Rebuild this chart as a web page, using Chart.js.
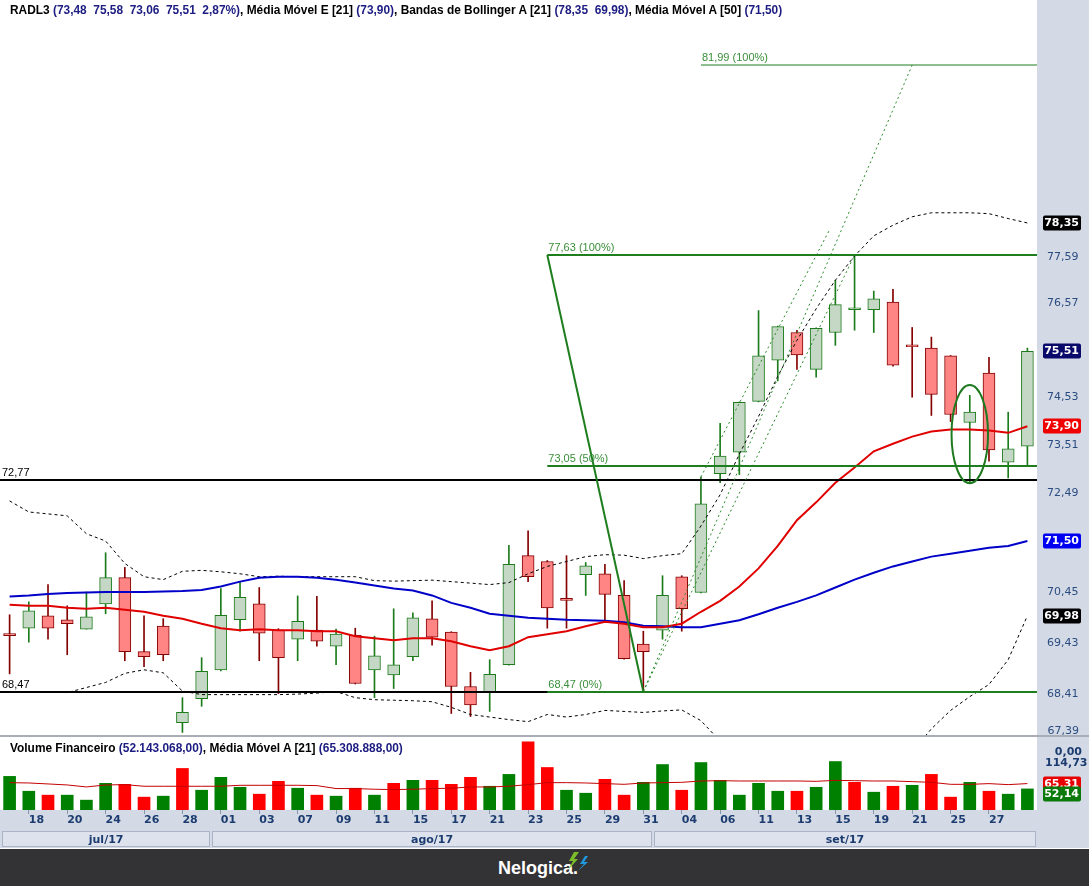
<!DOCTYPE html>
<html>
<head>
<meta charset="utf-8">
<title>RADL3</title>
<script src="https://cdn.jsdelivr.net/npm/chart.js@4.4.1/dist/chart.umd.min.js"></script>
<style>
  body { margin: 0; background: #fff; }
  #pagina { position: relative; width: 1089px; height: 886px; overflow: hidden; }
  canvas { position: absolute; left: 0; }
  #precos { top: 0; }
  #volume { top: 737px; }
  .sep { position: absolute; left: 0; top: 735px; width: 1089px; height: 2px; background: #a9aeb6; }
  .titulo { position: absolute; left: 10px; font: bold 11.9px "Liberation Sans", sans-serif; white-space: pre; color: #000; }
  .titulo span { color: #1c1c82; }
  #rodape { position: absolute; left: 0; top: 849px; width: 1089px; height: 37px; background: #333335; }
  #rodape .marca { position: absolute; left: 498px; top: 9px; color: #fff; font: bold 18px "Liberation Sans", sans-serif; }
  #rodape svg { position: absolute; left: 565px; top: 3px; }
</style>
</head>
<body>
<div id="pagina">
  <canvas id="precos" width="1089" height="735"></canvas>
  <div class="sep"></div>
  <canvas id="volume" width="1089" height="111"></canvas>
  <div class="titulo" style="top:3px">RADL3 <span>(73,48  75,58  73,06  75,51  2,87%)</span>, Média Móvel E [21] <span>(73,90)</span>, Bandas de Bollinger A [21] <span>(78,35  69,98)</span>, Média Móvel A [50] <span>(71,50)</span></div>
  <div class="titulo" style="top:741px">Volume Financeiro <span>(52.143.068,00)</span>, Média Móvel A [21] <span>(65.308.888,00)</span></div>
  <div id="rodape">
    <div class="marca">Nelogica.</div>
    <svg width="24" height="20" viewBox="0 0 24 20">
      <polygon points="9,0 4,9 8,9 3,18 13,7 9,7 14,0" fill="#7cbc2a"/>
      <polygon points="20,4 15,12 19,12 13,19 23,10 19,10 23,4" fill="#1e98de"/>
    </svg>
  </div>
</div>
<script>
// pregões de 17/07/2017 a 29/09/2017
const dates = ['17/07','18/07','19/07','20/07','21/07','24/07','25/07','26/07','27/07','28/07','31/07',
  '01/08','02/08','03/08','04/08','07/08','08/08','09/08','10/08','11/08','14/08','15/08','16/08','17/08','18/08',
  '21/08','22/08','23/08','24/08','25/08','28/08','29/08','30/08','31/08',
  '01/09','04/09','05/09','06/09','08/09','11/09','12/09','13/09','14/09','15/09','18/09','19/09','20/09','21/09','22/09',
  '25/09','26/09','27/09','28/09','29/09'];
const months = ['jul/17', 'ago/17', 'set/17'];
const monthNumbers = ['07', '08', '09'];

const opens = [69.62,69.73,69.98,69.90,69.71,70.22,70.75,69.26,69.77,67.86,
  68.33,68.90,69.90,70.22,69.69,69.51,69.69,69.37,69.59,68.90,
  68.80,69.16,69.92,69.65,68.57,68.45,69.00,71.20,71.08,70.33,
  70.81,70.83,70.39,69.41,69.69,70.77,70.45,72.90,73.35,74.43,
  75.32,75.92,75.12,75.92,76.42,76.42,76.59,75.65,75.58,75.41,
  73.98,75.04,73.14,73.48];
const highs = [70.00,70.26,70.61,70.18,70.46,71.26,70.96,69.98,69.92,68.35,
  69.14,70.53,70.67,70.55,69.72,70.38,70.37,69.71,69.73,69.57,
  70.12,70.04,70.28,69.66,68.85,69.10,71.41,71.71,71.10,71.20,
  71.06,71.02,70.69,69.67,70.79,70.79,72.83,73.96,74.42,76.40,
  76.06,75.97,76.02,77.07,77.63,76.83,76.87,76.03,75.82,75.42,
  74.56,75.38,74.20,75.58];
const lows = [68.82,69.45,69.51,69.20,69.71,70.02,69.08,68.96,69.08,67.67,
  68.18,68.88,69.67,69.08,68.43,69.08,69.37,69.00,68.62,68.35,
  68.53,69.08,69.39,68.04,67.98,68.08,68.99,70.67,69.73,69.73,
  70.39,69.88,69.11,68.47,69.51,69.67,70.44,72.71,72.88,74.42,
  74.87,75.12,74.95,75.64,75.97,75.92,75.19,74.52,74.13,74.00,
  72.71,73.16,72.81,73.06];
const closes = [69.58,70.08,69.73,69.82,69.96,70.75,69.26,69.16,69.20,68.06,
  68.87,69.99,70.35,69.63,69.14,69.87,69.47,69.61,68.63,69.18,
  69.00,69.94,69.55,68.57,68.21,68.81,71.02,70.77,70.14,70.29,
  70.99,70.41,69.12,69.26,70.39,70.12,72.27,73.27,74.41,75.41,
  76.05,75.43,76.01,76.53,76.46,76.66,75.21,75.61,74.58,74.15,
  74.20,73.40,73.42,75.51];

const ema21 = [70.20,70.18,70.18,70.14,70.12,70.14,70.10,70.06,69.98,69.92,
  69.82,69.73,69.69,69.71,69.69,69.69,69.67,69.67,69.57,69.53,
  69.49,69.53,69.53,69.47,69.37,69.29,69.37,69.55,69.61,69.67,
  69.77,69.86,69.82,69.75,69.75,69.82,70.06,70.28,70.57,70.94,
  71.40,71.93,72.30,72.71,73.03,73.37,73.53,73.68,73.79,73.83,
  73.83,73.81,73.76,73.90];
const sma50 = [70.37,70.39,70.42,70.44,70.45,70.46,70.46,70.46,70.47,70.48,
  70.50,70.57,70.67,70.75,70.77,70.77,70.75,70.71,70.65,70.59,
  70.53,70.49,70.39,70.24,70.14,70.02,69.98,69.94,69.92,69.90,
  69.89,69.88,69.85,69.78,69.77,69.75,69.75,69.82,69.89,70.01,
  70.14,70.26,70.39,70.55,70.71,70.85,70.98,71.08,71.18,71.24,
  71.30,71.36,71.40,71.50];
const bollUpper = [72.33,72.10,72.06,72.02,71.65,71.50,71.04,70.77,70.71,70.88,
  70.90,70.87,70.83,70.77,70.78,70.77,70.77,70.77,70.77,70.69,
  70.68,70.69,70.70,70.67,70.64,70.61,70.65,70.83,70.98,71.08,
  71.18,71.22,71.21,71.14,71.20,71.24,71.81,72.46,73.31,74.11,
  74.97,75.75,76.44,77.07,77.61,78.06,78.30,78.49,78.58,78.58,
  78.58,78.56,78.45,78.35];
const bollLower = [68.46,68.47,68.46,68.45,68.55,68.65,68.83,68.90,68.84,68.48,
  68.41,68.41,68.41,68.41,68.41,68.42,68.44,68.47,68.35,68.31,
  68.30,68.29,68.27,68.16,68.02,67.97,67.92,67.88,68.02,67.97,
  68.02,68.10,68.08,68.06,68.09,68.11,67.90,67.50,67.15,66.80,
  66.50,66.30,66.20,66.20,66.30,66.60,66.90,67.30,67.74,68.10,
  68.37,68.61,69.10,69.98];

// volume financeiro em milhões de R$
const volumes = [83.1,46.4,36.7,36.7,24.4,66.0,63.5,31.8,34.2,102.7,
  48.9,80.7,56.2,39.1,70.9,53.8,36.7,34.2,53.8,36.7,
  66.0,73.3,73.3,63.5,80.7,58.7,88.0,168.6,105.1,48.9,
  41.5,75.8,36.7,68.4,112.4,48.9,117.3,73.3,36.7,66.0,
  46.4,46.4,56.2,119.8,68.4,44.0,58.7,61.1,88.0,31.8,
  68.4,46.4,39.1,52.14];
const volMA21 = [67.6,66.8,64.4,61.9,57.0,61.9,62.7,58.7,58.7,58.7,
  58.7,58.7,61.1,61.1,61.1,61.1,60.3,53.0,53.0,51.3,
  50.5,51.3,53.0,53.8,57.0,57.0,58.7,62.7,67.6,67.6,
  66.8,65.2,63.5,66.8,67.6,68.4,71.7,72.5,71.7,71.7,
  71.7,71.7,70.9,73.3,72.5,71.7,71.7,70.1,68.4,63.5,
  63.5,65.2,62.7,65.31];

const priceTicks = [68.41, 69.43, 70.45, 72.49, 73.51, 74.53, 76.57, 77.59];
const bottomTick = 67.39;
const volTicks = [114.73];

// desenhos do gráfico (índice do pregão, preço)
const supportLines = [72.77, 68.47];
const fibFrom = [28, 77.63];
const fibTo = [33, 68.47];
const fibLevels = [[77.63, '77,63 (100%)'], [73.05, '73,05 (50%)'], [68.47, '68,47 (0%)']];
const projection = [36, 81.99, '81,99 (100%)'];
const trendLines = [[33, 68.47, 47, 81.99], [33, 68.47, 44, 77.63], [36, 72.83, 42.7, 78.2]];
const highlight = [50, 74.78, 72.70, 0.95];

const fmt = v => v.toFixed(2).replace('.', ',');
const n = dates.length - 1;

Chart.defaults.font.family = '"DejaVu Sans", sans-serif';
Chart.defaults.font.size = 11;

const up = closes.map((c, i) => c >= opens[i]);
const bodyFill = up.map(u => u ? '#c5d7c5' : '#ff8585');
const bodyLine = up.map(u => u ? '#1c7c1c' : '#850000');

function box(ctx, x, y, txt, color) {
  ctx.fillStyle = color;
  ctx.beginPath();
  ctx.roundRect(x, Math.round(y) - 7.5, 38, 15, 2);
  ctx.fill();
  ctx.fillStyle = '#fff';
  ctx.font = 'bold 11px "DejaVu Sans"';
  ctx.textAlign = 'right';
  ctx.textBaseline = 'middle';
  ctx.fillText(txt, x + 36, Math.round(y) + 0.5);
}

const drawings = {
  id: 'drawings',
  beforeDraw(chart) {
    const { ctx, chartArea: a } = chart;
    ctx.save();
    ctx.fillStyle = '#d3dae6';
    ctx.fillRect(a.right, 0, chart.width - a.right, chart.height);
    ctx.restore();
  },
  afterDatasetsDraw(chart) {
    const { ctx, chartArea: a, scales: { x, y } } = chart;
    const px = i => x.getPixelForValue(i);
    const py = v => y.getPixelForValue(v);
    const seg = (x0, y0, x1, y1) => { ctx.beginPath(); ctx.moveTo(x0, y0); ctx.lineTo(x1, y1); ctx.stroke(); };
    ctx.save();
    ctx.beginPath();
    ctx.rect(a.left, a.top, a.right - a.left, a.bottom - a.top);
    ctx.clip();

    // linhas de suporte / resistência
    ctx.strokeStyle = '#000';
    ctx.lineWidth = 2;
    ctx.font = '11px "Liberation Sans"';
    ctx.textBaseline = 'bottom';
    ctx.fillStyle = '#000';
    supportLines.forEach(v => {
      const yy = Math.round(py(v));
      seg(a.left, yy, a.right, yy);
      ctx.fillText(fmt(v), a.left + 2, yy - 2);
    });

    // linhas de tendência pontilhadas
    ctx.strokeStyle = '#2b8a2b';
    ctx.lineWidth = 1;
    ctx.setLineDash([2, 3]);
    trendLines.forEach(([i0, v0, i1, v1]) => seg(px(i0), py(v0), px(i1), py(v1)));
    ctx.setLineDash([]);

    // retração de Fibonacci
    ctx.strokeStyle = '#1e7e1e';
    ctx.lineWidth = 2;
    seg(px(fibFrom[0]), py(fibFrom[1]), px(fibTo[0]), py(fibTo[1]));
    ctx.fillStyle = '#3a8f3a';
    fibLevels.forEach(([v, txt]) => {
      const yy = Math.round(py(v));
      seg(px(fibFrom[0]), yy, a.right, yy);
      ctx.fillText(txt, px(fibFrom[0]) + 1, yy - 2);
    });
    ctx.lineWidth = 1.2;
    const yp = Math.round(py(projection[1]));
    seg(px(projection[0]), yp, a.right, yp);
    ctx.fillText(projection[2], px(projection[0]) + 1, yp - 2);

    // elipse de destaque
    const [hi, vTop, vBot, hw] = highlight;
    const yt = py(vTop), yb = py(vBot);
    ctx.lineWidth = 2;
    ctx.strokeStyle = '#1e7a1e';
    ctx.beginPath();
    ctx.ellipse(px(hi), (yt + yb) / 2, hw * (px(1) - px(0)), (yb - yt) / 2, 0, 0, Math.PI * 2);
    ctx.stroke();
    ctx.restore();
  },
  afterDraw(chart) {
    const { ctx, chartArea: a, scales: { y } } = chart;
    ctx.save();
    ctx.font = '11px "DejaVu Sans"';
    ctx.fillStyle = '#2b4c80';
    ctx.textAlign = 'right';
    ctx.textBaseline = 'middle';
    ctx.fillText(fmt(bottomTick), a.right + 42, a.bottom - 4);
    const x0 = a.right + 6;
    box(ctx, x0, y.getPixelForValue(bollUpper[n]), fmt(bollUpper[n]), '#000000');
    box(ctx, x0, y.getPixelForValue(closes[n]), fmt(closes[n]), '#0a0a6a');
    box(ctx, x0, y.getPixelForValue(ema21[n]), fmt(ema21[n]), '#f00000');
    box(ctx, x0, y.getPixelForValue(sma50[n]), fmt(sma50[n]), '#0000f0');
    box(ctx, x0, y.getPixelForValue(bollLower[n]), fmt(bollLower[n]), '#000000');
    ctx.restore();
  }
};

new Chart(document.getElementById('precos'), {
  type: 'bar',
  data: {
    labels: dates,
    datasets: [
      { type: 'line', label: 'Média Móvel E [21]', data: ema21, borderColor: '#e00000', borderWidth: 2, pointRadius: 0, order: 0 },
      { type: 'line', label: 'Média Móvel A [50]', data: sma50, borderColor: '#0000c8', borderWidth: 2, pointRadius: 0, order: 1 },
      { type: 'line', label: 'Bollinger sup', data: bollUpper, borderColor: '#000', borderWidth: 1, borderDash: [3, 3], pointRadius: 0, order: 2 },
      { type: 'line', label: 'Bollinger inf', data: bollLower, borderColor: '#000', borderWidth: 1, borderDash: [3, 3], pointRadius: 0, order: 2 },
      {
        label: 'corpo', data: opens.map((o, i) => [o, closes[i]]),
        backgroundColor: bodyFill, borderColor: bodyLine, borderWidth: 1, borderSkipped: false,
        barThickness: 12, grouped: false, order: 3
      },
      {
        label: 'pavio', data: lows.map((l, i) => [l, highs[i]]),
        backgroundColor: bodyLine, borderWidth: 0, barThickness: 1, grouped: false, order: 4
      }
    ]
  },
  options: {
    responsive: false,
    animation: false,
    events: [],
    layout: { padding: 0 },
    plugins: { legend: { display: false }, tooltip: { enabled: false } },
    scales: {
      x: { display: false, offset: true },
      y: {
        type: 'logarithmic', position: 'right', min: 67.62, max: 83.54, bounds: 'data',
        grid: { display: false, drawTicks: false, tickLength: 0 }, border: { display: false },
        afterBuildTicks: s => { s.ticks = priceTicks.map(v => ({ value: v })); },
        afterFit: s => { s.width = 52; s.paddingTop = 0; s.paddingBottom = 0; },
        ticks: { color: '#2b4c80', padding: 10, crossAlign: 'near', autoSkip: false, callback: v => fmt(v) }
      }
    }
  },
  plugins: [drawings]
});

const volColors = closes.map((c, i) => (i === 0 || c >= closes[i - 1]) ? '#008000' : '#ff0000');

const volumePanel = {
  id: 'volumePanel',
  beforeDraw(chart) {
    const { ctx, chartArea: a } = chart;
    ctx.save();
    ctx.fillStyle = '#d3dae6';
    ctx.fillRect(a.right, 0, chart.width - a.right, chart.height);
    ctx.fillRect(0, a.bottom, chart.width, chart.height - a.bottom);
    ctx.restore();
  },
  afterDraw(chart) {
    const { ctx, chartArea: a, scales: { x, y } } = chart;
    const px = i => x.getPixelForValue(i);
    ctx.save();
    // faixa dos meses
    const top = a.bottom + 21, h = chart.height - top - 1;
    months.forEach((m, k) => {
      const idx = dates.map((d, i) => i).filter(i => dates[i].slice(3) === monthNumbers[k]);
      const i0 = idx[0], i1 = idx[idx.length - 1];
      const left = i0 === 0 ? a.left + 2 : (px(i0) + px(i0 - 1)) / 2 + 1;
      const right = i1 === n ? a.right - 1 : (px(i1) + px(i1 + 1)) / 2 - 1;
      ctx.fillStyle = '#dde2ec';
      ctx.fillRect(left, top, right - left, h);
      ctx.strokeStyle = '#aab4c6';
      ctx.lineWidth = 1;
      ctx.strokeRect(Math.round(left) + 0.5, top + 0.5, Math.round(right - left) - 1, h - 1);
      ctx.fillStyle = '#1c3c70';
      ctx.font = 'bold 11px "DejaVu Sans"';
      ctx.textAlign = 'center';
      ctx.textBaseline = 'middle';
      ctx.fillText(m, (left + right) / 2, top + h / 2 + 1);
    });
    // rótulos do eixo do volume
    ctx.font = 'bold 11px "DejaVu Sans"';
    ctx.fillStyle = '#1c3c70';
    ctx.textAlign = 'right';
    ctx.textBaseline = 'middle';
    ctx.fillText('0,00', a.right + 45, a.top + 14);
    const x0 = a.right + 6;
    const yMA = y.getPixelForValue(volMA21[n]);
    const yVol = Math.max(y.getPixelForValue(volumes[n]), yMA + 10);
    box(ctx, x0, yMA, fmt(volMA21[n]), '#e80000');
    box(ctx, x0, yVol, fmt(volumes[n]), '#0b7a0b');
    ctx.restore();
  }
};

new Chart(document.getElementById('volume'), {
  type: 'bar',
  data: {
    labels: dates,
    datasets: [
      { type: 'line', label: 'Média Móvel A [21]', data: volMA21, borderColor: '#c40000', borderWidth: 1, pointRadius: 0, order: 0 },
      { label: 'Volume Financeiro', data: volumes, backgroundColor: volColors, barThickness: 12, order: 1 }
    ]
  },
  options: {
    responsive: false,
    animation: false,
    events: [],
    layout: { padding: { top: 1, bottom: 18 } },
    plugins: { legend: { display: false }, tooltip: { enabled: false } },
    scales: {
      x: {
        offset: true,
        grid: { display: true, offset: false, drawOnChartArea: false, drawTicks: true, tickLength: 4,
                color: c => (c.index % 2 && c.index < n) ? '#8797b0' : 'rgba(0,0,0,0)' },
        border: { display: false },
        ticks: {
          autoSkip: false, maxRotation: 0, minRotation: 0, align: 'start', padding: 0,
          color: '#1c3c70', font: { weight: 'bold', size: 11 },
          callback: (v, i) => (i % 2 && i < n) ? dates[i].slice(0, 2) : ''
        },
        afterFit: s => { s.height = 20; s.paddingLeft = 0; s.paddingRight = 0; }
      },
      y: {
        position: 'right', min: 0, max: 178,
        grid: { display: false, drawTicks: false, tickLength: 0 }, border: { display: false },
        afterBuildTicks: s => { s.ticks = volTicks.map(v => ({ value: v })); },
        afterFit: s => { s.width = 52; s.paddingTop = 0; s.paddingBottom = 0; },
        ticks: { color: '#1c3c70', padding: 8, crossAlign: 'near', font: { weight: 'bold', size: 11 }, callback: v => fmt(v) }
      }
    }
  },
  plugins: [volumePanel]
});
</script>
</body>
</html>
